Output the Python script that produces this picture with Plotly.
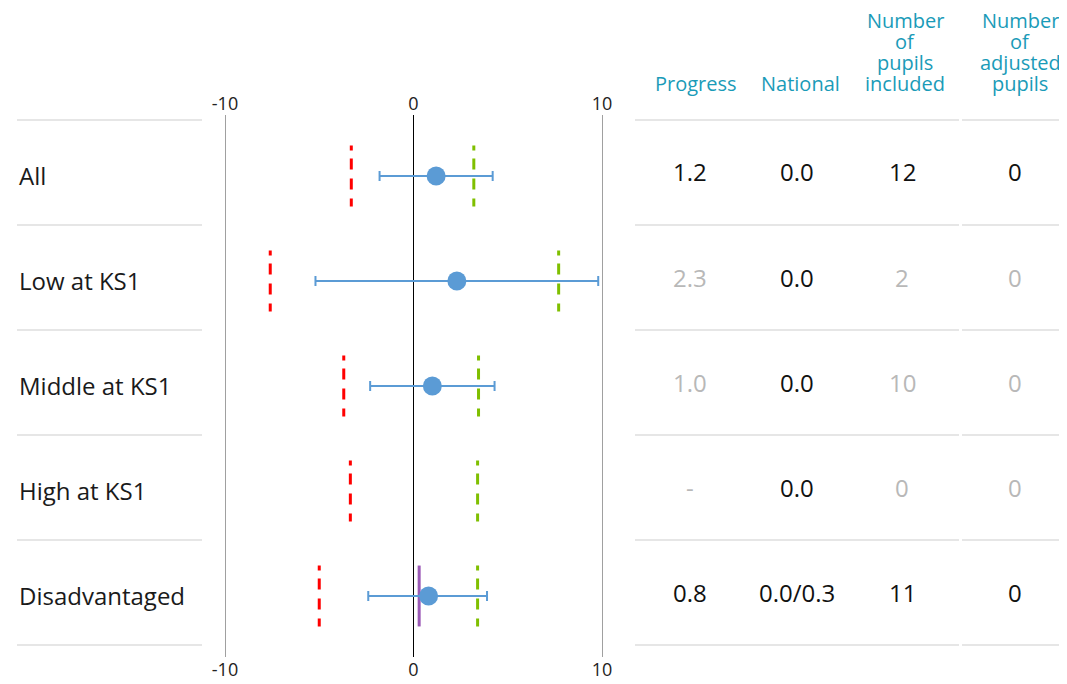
import plotly.graph_objects as go

W, H = 1067, 684
XOFF, XSPAN = 15, 1052  # horizontal page placement compensation
YOFF = 8                # vertical page placement compensation

groups = ["All", "Low at KS1", "Middle at KS1", "High at KS1", "Disadvantaged"]
progress = [1.2, 2.3, 1.0, None, 0.8]
ci_low = [-1.8, -5.2, -2.3, None, -2.4]
ci_high = [4.2, 9.8, 4.3, None, 3.9]
lower_band = [-3.3, -7.6, -3.7, -3.35, -5.0]
upper_band = [3.2, 7.7, 3.45, 3.4, 3.4]
disadv_national = 0.3
disadv_row = 4

col_headers = [["Progress"], ["National"], ["Number", "of", "pupils", "included"], ["Number", "of", "adjusted", "pupils"]]
col_progress = ["1.2", "2.3", "1.0", "-", "0.8"]
col_national = ["0.0", "0.0", "0.0", "0.0", "0.0/0.3"]
col_included = ["12", "2", "10", "0", "11"]
col_adjusted = ["0", "0", "0", "0", "0"]
row_emphasis = [True, False, False, False, True]

FONT = "Open Sans"
TEAL = "#1a9bb8"
GREY_TXT = "#b8b8b8"
SEP = "#e6e6e6"


def px(x):
    return (x - XOFF) / XSPAN


def py(y):
    return 1 - (y - YOFF) / H


fig = go.Figure()

half = 0.29
DASH = "5px,8px,11px,9px,11px,9px,8px,40px"


def seg(vals):
    xs, yy = [], []
    for i, v in enumerate(vals):
        xs += [v, v, None]
        yy += [i - half, i + half, None]
    return xs, yy


rx, ry = seg(lower_band)
fig.add_trace(go.Scatter(x=rx, y=ry, mode="lines", line=dict(color="#ff0000", width=3, dash=DASH),
                         hoverinfo="skip", showlegend=False))
gx, gy = seg(upper_band)
fig.add_trace(go.Scatter(x=gx, y=gy, mode="lines", line=dict(color="#7fbf00", width=3, dash=DASH),
                         hoverinfo="skip", showlegend=False))

fig.add_trace(go.Scatter(x=[disadv_national, disadv_national], y=[disadv_row - half, disadv_row + half],
                         mode="lines", line=dict(color="#9b59b6", width=3), hoverinfo="skip", showlegend=False))

pts_x, pts_y, e_plus, e_minus = [], [], [], []
for i, v in enumerate(progress):
    if v is None:
        continue
    pts_x.append(v)
    pts_y.append(i)
    e_plus.append(ci_high[i] - v)
    e_minus.append(v - ci_low[i])
fig.add_trace(go.Scatter(x=pts_x, y=pts_y, mode="markers",
                         marker=dict(color="#5b9bd5", size=19),
                         error_x=dict(type="data", symmetric=False, array=e_plus, arrayminus=e_minus,
                                      color="#5b9bd5", thickness=2, width=5),
                         hoverinfo="skip", showlegend=False))

fig.add_trace(go.Scatter(x=[-10, 10], y=[0, 0], xaxis="x2", mode="markers",
                         marker=dict(opacity=0), hoverinfo="skip", showlegend=False))

xr = [-10.2, 10.2]
ppu = (600 - 223) / 20
d0 = px(223 - 0.2 * ppu)
d1 = px(600 + 0.2 * ppu)

top_px, bot_px = 115, 657
mark0, step = 176, 105
yr = [(bot_px - mark0) / step, (top_px - mark0) / step]

axis_common = dict(range=xr, domain=[d0, d1], tickvals=[-10, 0, 10], ticktext=["-10", "0", "10"],
                   tickfont=dict(family=FONT, size=18, color="#222"), ticks="", fixedrange=True)

fig.update_layout(
    width=W, height=H, margin=dict(l=0, r=0, t=0, b=0),
    paper_bgcolor="white", plot_bgcolor="white",
    font=dict(family=FONT),
    xaxis=dict(**axis_common, side="bottom", showgrid=True, gridcolor="#a0a0a0", gridwidth=1,
               zeroline=True, zerolinecolor="#000000", zerolinewidth=1, showline=False),
    xaxis2=dict(**axis_common, side="top", overlaying="x", showgrid=False, zeroline=False, showline=False),
    yaxis=dict(range=yr, domain=[py(bot_px), py(top_px)], showgrid=False, zeroline=False,
               showticklabels=False, fixedrange=True),
    showlegend=False,
)

sep_ys = [120 + step * k for k in range(len(groups) + 1)]
for sy in sep_ys:
    for a, b in [(12, 200), (633, 957), (960, 1067)]:
        fig.add_shape(type="line", xref="paper", yref="paper", x0=max(px(a), 0), x1=min(px(b), 1),
                      y0=py(sy), y1=py(sy), line=dict(color=SEP, width=2))

label0 = 175
for i, g in enumerate(groups):
    fig.add_annotation(x=px(15), y=py(label0 + step * i), xref="paper", yref="paper", text=g,
                       showarrow=False, xanchor="left", yanchor="middle",
                       font=dict(family=FONT, size=24, color="#1a1a1a"))

col_x = [694, 798, 903, 1018]
line_y = [21, 42, 62, 83]
for cx, lines in zip(col_x, col_headers):
    n = len(lines)
    for k, t in enumerate(lines):
        fig.add_annotation(x=px(cx), y=py(line_y[4 - n + k]), xref="paper", yref="paper", text=t,
                           showarrow=False, xanchor="center", yanchor="middle",
                           font=dict(family=FONT, size=20, color=TEAL))

cols = [col_progress, col_national, col_included, col_adjusted]
col_vx = [688, 795, 900, 1013]
value0 = 172
for ci, (cx, col) in enumerate(zip(col_vx, cols)):
    for i, val in enumerate(col):
        dark = row_emphasis[i] or ci == 1
        fig.add_annotation(x=px(cx), y=py(value0 + step * i), xref="paper", yref="paper", text=val,
                           showarrow=False, xanchor="center", yanchor="middle",
                           font=dict(family=FONT, size=24, color="#111" if dark else GREY_TXT))

fig.write_html("out.html")
